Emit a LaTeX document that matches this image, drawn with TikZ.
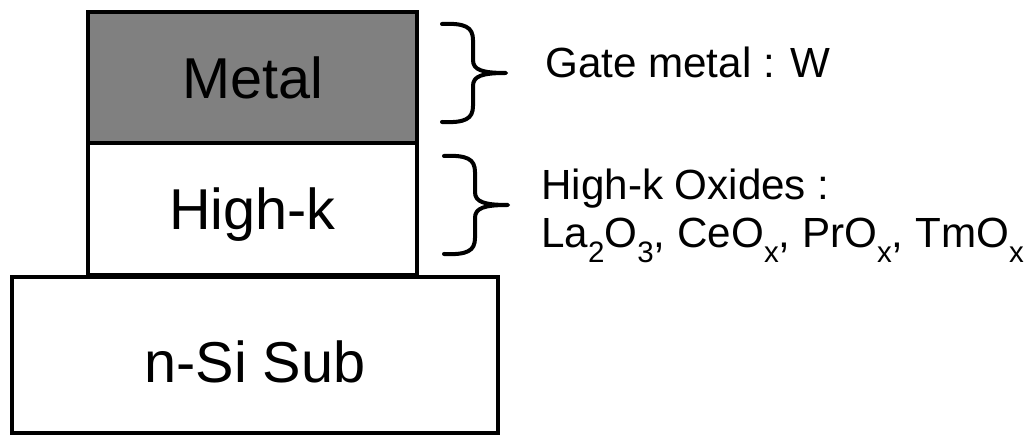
\documentclass[tikz,border=0pt]{standalone}
\usepackage{fontspec}
\setmainfont{Liberation Sans}
\usetikzlibrary{positioning}

\newcommand\chemsub[1]{\raisebox{-10pt}{\fontsize{21}{25}\selectfont #1}}

\begin{document}
\begin{tikzpicture}[
  layer/.style={draw=black, line width=2.85pt, outer sep=0pt, inner sep=0pt,
    minimum width=8.225cm, font=\fontsize{41}{48}\selectfont,
    text height=29.4pt, text depth=0pt},
  brc/.style={line width=2.85pt, line cap=round, line join=round},
  lbl/.style={font=\fontsize{30}{36}\selectfont, anchor=base west, inner sep=0pt}
]
  \useasboundingbox (0,0) rectangle (25.7,10.925);

  % Gate stack
  \node[layer, fill=gray, minimum height=3.275cm] (metal) at (6.3125, 8.9875) {Metal};
  \node[layer, minimum height=3.3cm, below=0pt of metal] (highk) {High-k};
  % Substrate
  \node[layer, minimum width=12.15cm, minimum height=3.9cm, text height=38.6pt]
    (sub) at (6.375, 2.05) {n-Si Sub};

  % Braces
  \coordinate (gateTip) at (12.65, 9.1);
  \coordinate (oxTip) at (12.7, 5.8);
  \foreach \t in {gateTip, oxTip}{
    \draw[brc, shift={(\t)}] (-1.6, 1.225)
      .. controls (-1.025, 1.25) and (-0.825, 1.15) .. (-0.825, 0.825)
      -- (-0.825, 0.325)
      .. controls (-0.825, 0.075) and (-0.6, 0) .. (0, 0)
      .. controls (-0.6, 0) and (-0.825, -0.075) .. (-0.825, -0.325)
      -- (-0.825, -0.825)
      .. controls (-0.825, -1.15) and (-1.025, -1.25) .. (-1.6, -1.225);
  }

  % Labels
  \node[lbl] (gateLbl) at (13.625, 8.975) {Gate metal : W};
  \node[lbl] (oxTitle) at (13.525, 5.925) {High-k Oxides :};
  \node[lbl] (oxList) at (13.525, 4.725)
    {La\chemsub{2}O\chemsub{3}, CeO\chemsub{x}, PrO\chemsub{x}, TmO\chemsub{x}};
\end{tikzpicture}
\end{document}
